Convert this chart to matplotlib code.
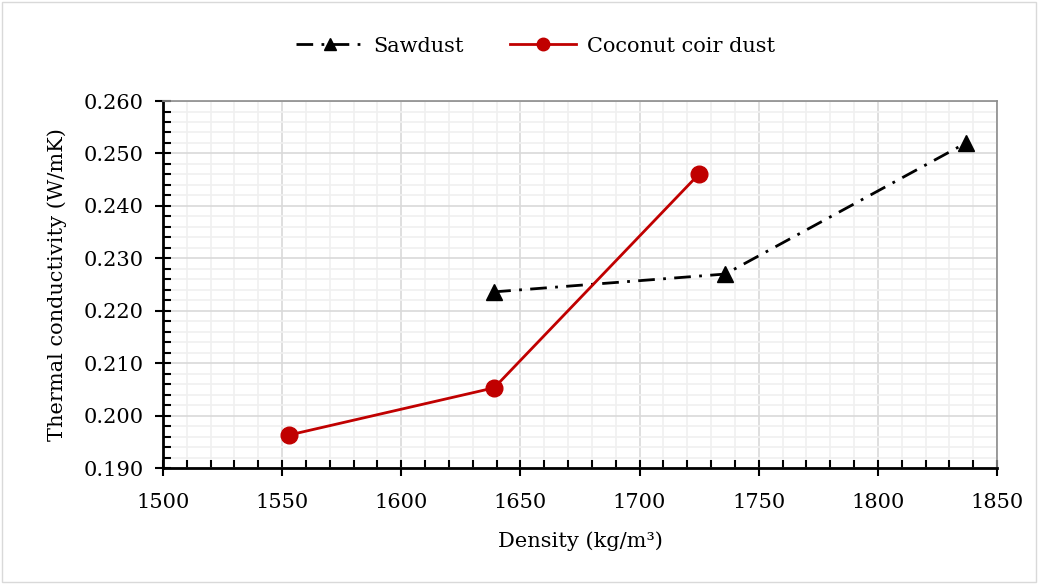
import numpy as np
import matplotlib.pyplot as plt
from matplotlib.ticker import MultipleLocator, FormatStrFormatter
from matplotlib.patches import Rectangle

plt.rcParams['font.family'] = ['DejaVu Serif']

# data
saw_x = [1639, 1736, 1837]
saw_y = [0.2236, 0.2270, 0.2520]
coir_x = [1553, 1639, 1725]
coir_y = [0.1963, 0.2053, 0.2461]

fig = plt.figure(figsize=(10.38, 5.84), dpi=100)
ax = fig.add_axes([0.157, 0.1986, 0.8035, 0.6284])

ax.plot(saw_x, saw_y, color='black', lw=2, dashes=(6, 3, 1, 3),
        marker='^', ms=11, label='Sawdust', zorder=3)
ax.plot(coir_x, coir_y, color='#c00000', lw=2,
        marker='o', ms=12, label='Coconut coir dust', zorder=3)

ax.set_xlim(1500, 1850)
ax.set_ylim(0.190, 0.260)
ax.xaxis.set_major_locator(MultipleLocator(50))
ax.xaxis.set_minor_locator(MultipleLocator(10))
ax.yaxis.set_major_locator(MultipleLocator(0.01))
ax.yaxis.set_minor_locator(MultipleLocator(0.002))
ax.yaxis.set_major_formatter(FormatStrFormatter('%.3f'))

ax.grid(which='major', color='#d9d9d9', lw=1.2)
ax.grid(which='minor', color='#f0f0f0', lw=1.2)
ax.set_axisbelow(True)

for s in ['top', 'right']:
    ax.spines[s].set_color('#8c8c8c')
    ax.spines[s].set_linewidth(1.2)
for s in ['left', 'bottom']:
    ax.spines[s].set_color('black')
    ax.spines[s].set_linewidth(2)

ax.tick_params(which='major', direction='inout', length=12, width=1.5,
               labelsize=15, pad=8, top=False, right=False)
ax.tick_params(axis='x', which='major', pad=12)
ax.tick_params(which='minor', direction='in', length=6, width=1.5,
               top=False, right=False)

ax.set_xlabel('Density (kg/m\u00b3)', fontsize=15, labelpad=14)
ax.set_ylabel('Thermal conductivity (W/mK)', fontsize=15, labelpad=12)

fig.legend(loc='center', bbox_to_anchor=(0.516, 0.921), ncol=2, frameon=False,
           fontsize=15, handlelength=3.2, columnspacing=2.2, handletextpad=0.5,
           markerscale=0.75)

fig.patches.append(Rectangle((0.002, 0.003), 0.996, 0.994, transform=fig.transFigure,
                             fill=False, edgecolor='#d9d9d9', lw=1))

fig.savefig('out.png', dpi=100)
